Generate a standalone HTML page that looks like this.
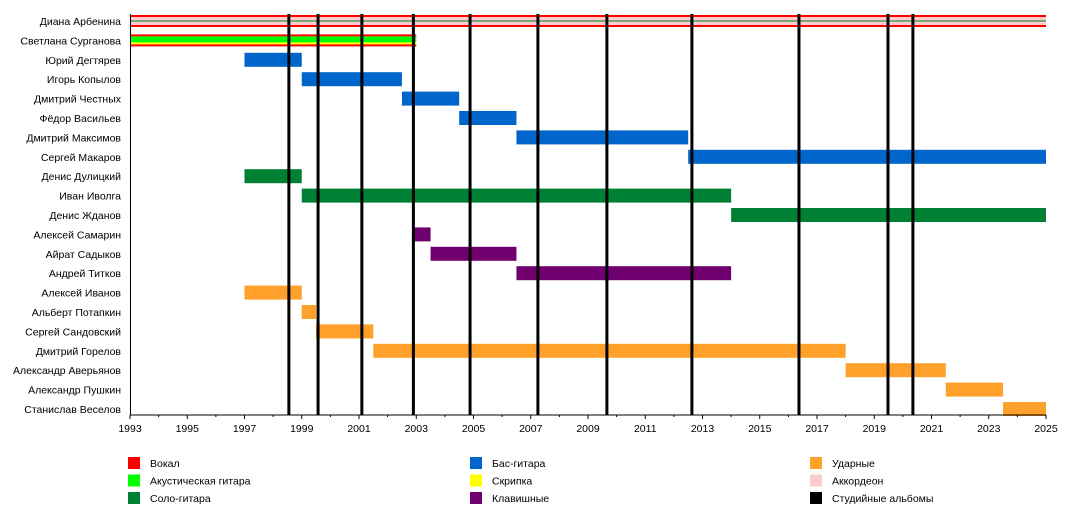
<!DOCTYPE html>
<html><head><meta charset="utf-8"><style>
body{margin:0;background:#fff;}
svg text{font-family:"Liberation Sans",sans-serif;font-size:10.5px;fill:#000;}
</style></head><body>
<svg id="c" width="1075" height="515"></svg>
<script>
const members=["Диана Арбенина","Светлана Сурганова","Юрий Дегтярев","Игорь Копылов","Дмитрий Честных","Фёдор Васильев","Дмитрий Максимов","Сергей Макаров","Денис Дулицкий","Иван Иволга","Денис Жданов","Алексей Самарин","Айрат Садыков","Андрей Титков","Алексей Иванов","Альберт Потапкин","Сергей Сандовский","Дмитрий Горелов","Александр Аверьянов","Александр Пушкин","Станислав Веселов"];
const starts=[1993,1993,1997,1999,2002.5,2004.5,2006.5,2012.5,1997,1999,2014,2002.9,2003.5,2006.5,1997,1999,1999.5,2001.5,2018,2021.5,2023.5];
const ends=[2025,2003,1999,2002.5,2004.5,2006.5,2012.5,2025,1999,2014,2025,2003.5,2006.5,2014,1999,1999.5,2001.5,2018,2021.5,2023.5,2025];
const roles=["vocal1","vocal2","bass","bass","bass","bass","bass","bass","lead","lead","lead","keys","keys","keys","drums","drums","drums","drums","drums","drums","drums"];
const albums=[1998.55,1999.57,2001.1,2002.9,2004.88,2007.25,2009.66,2012.63,2016.37,2019.48,2020.35];
const tickYears=[1993,1995,1997,1999,2001,2003,2005,2007,2009,2011,2013,2015,2017,2019,2021,2023,2025];
const legendLabels=["Вокал","Акустическая гитара","Соло-гитара","Бас-гитара","Скрипка","Клавишные","Ударные","Аккордеон","Студийные альбомы"];
const legendColors=["#ff0000","#00ff00","#008033","#0066cc","#ffff00","#700070","#ffa02a","#ffcccc","#000000"];
const C={bass:"#0066cc",lead:"#008033",keys:"#700070",drums:"#ffa02a"};
const svg=document.getElementById('c');const NS="http://www.w3.org/2000/svg";
const X0=130,X1=1046,Y0=21,DY=19.4,AX=415;
const x=y=>X0+(y-1993)*(X1-X0)/32;
const yr=i=>Y0+i*DY;
function mk(t,a,p){const e=document.createElementNS(NS,t);for(const k in a)e.setAttribute(k,a[k]);(p||svg).appendChild(e);return e;}
function rect(x0,y0,w,h,f){return mk('rect',{x:x0,y:y0,width:w,height:h,fill:f});}
members.forEach((m,i)=>{
 const t=mk('text',{x:121,y:yr(i)+4,'text-anchor':'end'});t.textContent=m;
 
 
 const a=x(starts[i]),w=x(ends[i])-a,c=yr(i);
 const g=mk('g',{});
 
 
 if(roles[i]=="vocal1"){
  rect(a,c-6,w,12,"#ffcccc").parentNode;g.appendChild(svg.lastChild);
  [[c-6,2,"#ff0000"],[c+4,2,"#ff0000"],[c-0.5,1,"#008033"]].forEach(s=>{rect(a,s[0],w,s[1],s[2]);g.appendChild(svg.lastChild);});
 }else if(roles[i]=="vocal2"){
  [[c-6,2,"#ff0000"],[c-4,6,"#00ff00"],[c+2,2,"#ffff00"],[c+4,2,"#ff0000"]].forEach(s=>{rect(a,s[0],w,s[1],s[2]);g.appendChild(svg.lastChild);});
 }else{rect(a,c-7,w,14,C[roles[i]]);g.appendChild(svg.lastChild);}
});
albums.forEach(v=>{const l=mk('rect',{x:x(v)-1.5,y:14,width:3,height:AX-14,fill:"#000"});
 
 });
const ax=mk('line',{x1:X0,y1:AX,x2:X1,y2:AX,stroke:"#000"});


const ay=mk('line',{x1:X0+.5,y1:14,x2:X0+.5,y2:AX,stroke:"#000"});


for(let yv=1993;yv<=2025;yv++){mk('line',{x1:x(yv),y1:AX,x2:x(yv),y2:AX+(yv%2?4:2),stroke:"#000"});}
tickYears.forEach(v=>{const t=mk('text',{x:x(v),y:AX+17,'text-anchor':'middle'});t.textContent=v;
 
 });
legendLabels.forEach((l,i)=>{const col=Math.floor(i/3),row=i%3;const lx=[128,470,810][col],ly=457+row*17.5;
 const g=mk('g',{});
 
 
 mk('rect',{x:lx,y:ly,width:12,height:12,fill:legendColors[i]},g);
 const t=mk('text',{x:lx+22,y:ly+10},g);t.textContent=l;});
</script>
</body></html>
